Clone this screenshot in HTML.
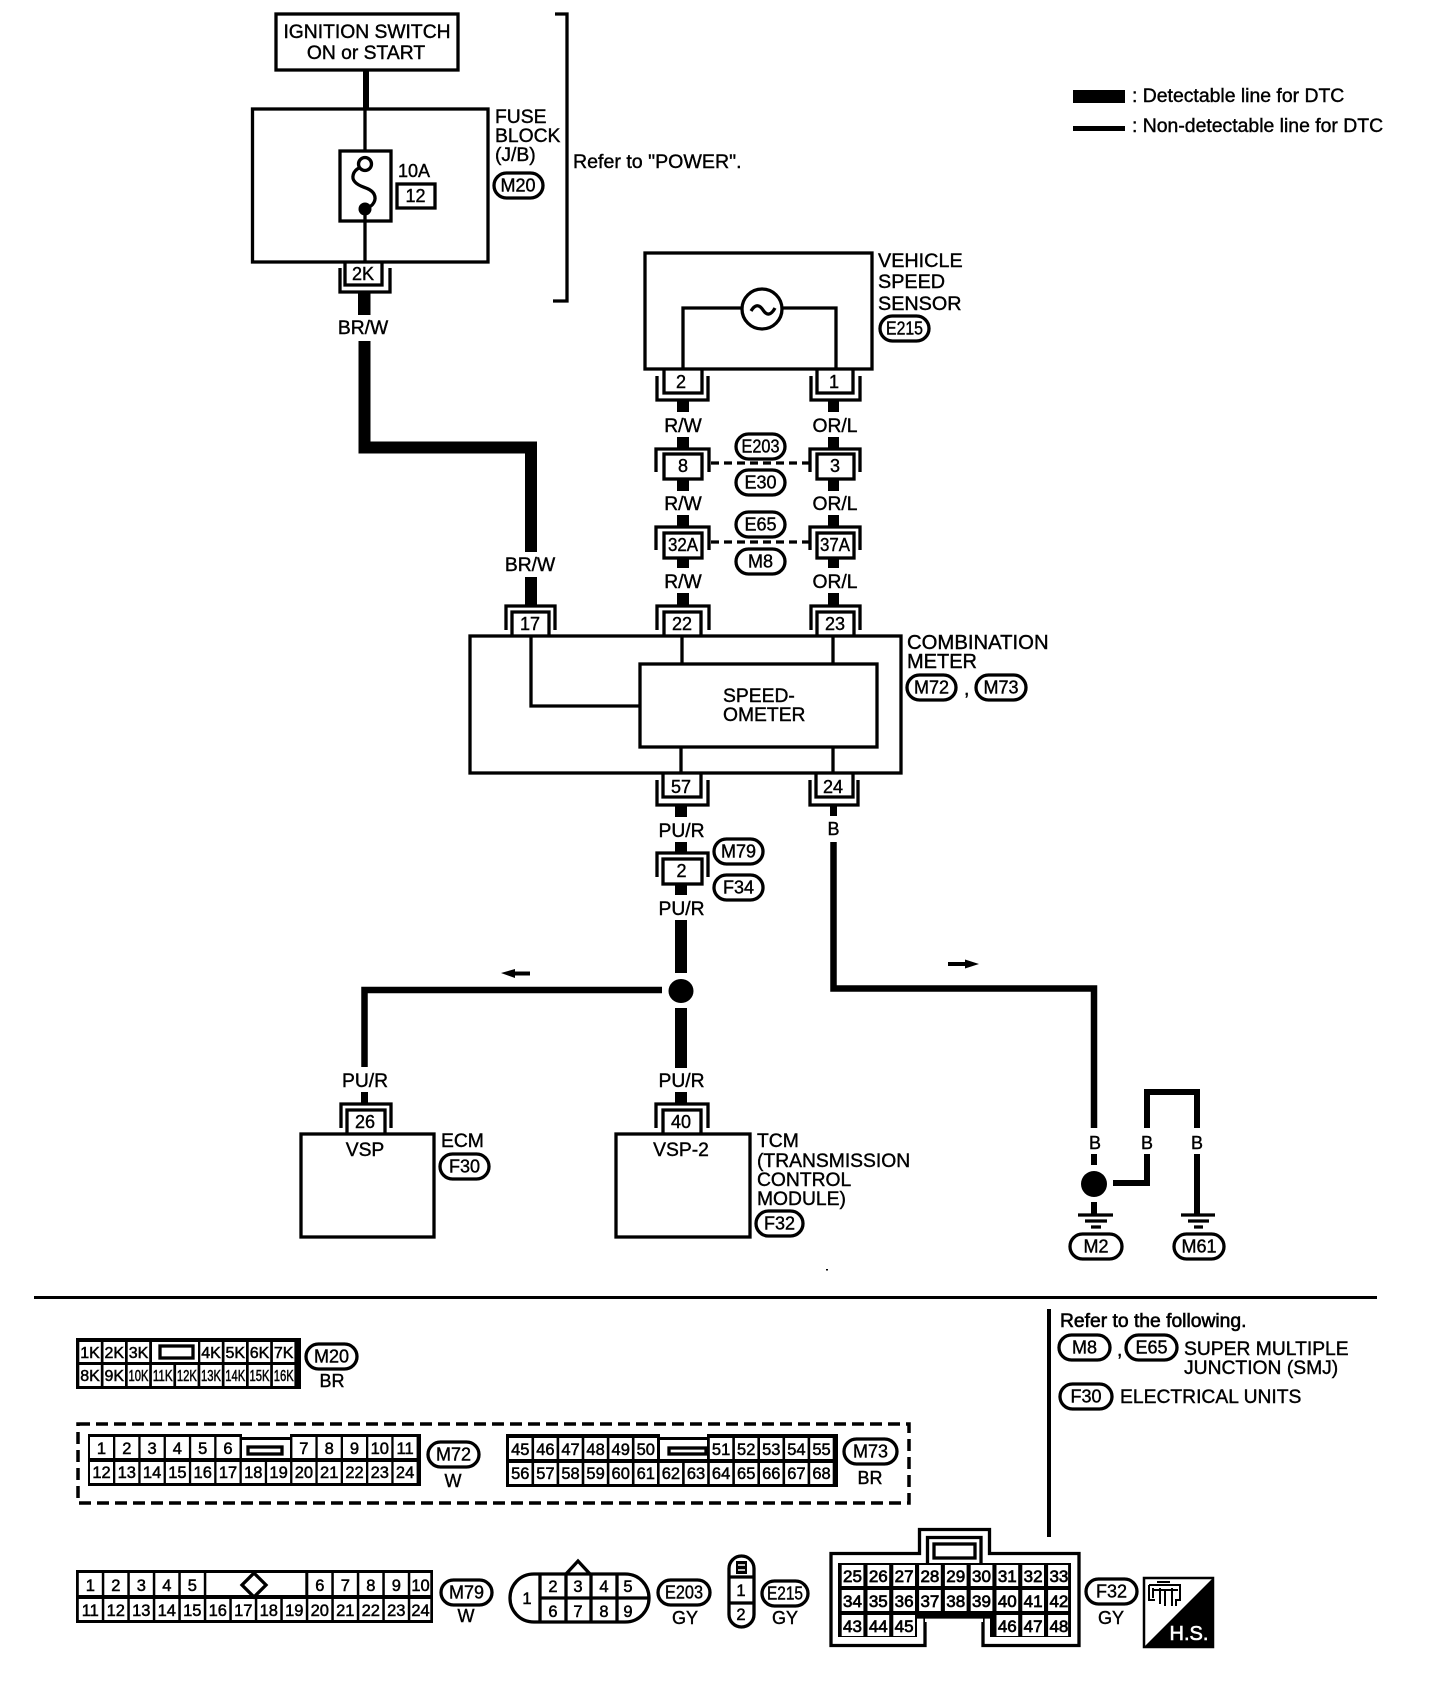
<!DOCTYPE html>
<html><head><meta charset="utf-8"><title>Wiring diagram</title>
<style>
html,body{margin:0;padding:0;background:#fff}
svg{display:block}
text{font-family:"Liberation Sans",sans-serif;font-size:19.300px;fill:#000;stroke:#000;stroke-width:.4}
.m{text-anchor:middle}
.s{font-size:18px}
.c{font-size:16.500px;text-anchor:middle;stroke-width:.5}
.k{font-size:16px;text-anchor:middle;stroke-width:.5}
.f{font-size:17px;text-anchor:middle;stroke-width:.7}
.o{fill:#fff;stroke:#000;stroke-width:3.300}
rect.o{height:25px;rx:12.500px;ry:12.500px}
.l{fill:none;stroke:#000;stroke-width:3.300}
.w{fill:#fff}
.b{fill:#000}
</style></head><body>
<svg width="1440" height="1690" viewBox="0 0 1440 1690" xmlns="http://www.w3.org/2000/svg">
<rect width="1440" height="1690" fill="#fff"/>

<!-- Ignition & fuse block -->
<rect x="276" y="14" width="182" height="56" class="l"/>
<text x="367" y="38" class="m">IGNITION SWITCH</text>
<text x="366" y="59" class="m">ON or START</text>
<rect x="363" y="70" width="6" height="40" class="b"/>
<rect x="252.500" y="109" width="235.500" height="153" class="l"/>
<path d="M365 109V151M365 209V262" class="l"/>
<rect x="340" y="151" width="51" height="70" class="l"/>
<circle cx="365" cy="164" r="6.500" class="l"/>
<path d="M359 168C353 171 351 178 355 182C360 188 370 187 374 194C377 200 373 206 367 208" class="l" stroke-width="2.800"/>
<circle cx="365" cy="209" r="6.500" class="b"/>
<text x="398" y="177" class="s">10A</text>
<rect x="397" y="184" width="38" height="24" class="l"/>
<text x="415.500" y="202" class="m s">12</text>
<text x="495" y="123">FUSE</text>
<text x="495" y="142">BLOCK</text>
<text x="495" y="161">(J/B)</text>
<rect x="494" y="173" class="o" width="49"/>
<text x="518" y="191.500" class="m s">M20</text>
<path d="M555 14H567V301H553" class="l"/>
<text x="573" y="168" style="font-size:19.600px">Refer to "POWER".</text>

<!-- Legend -->
<rect x="1073" y="90" width="52" height="13" class="b"/>
<text x="1132" y="102" style="font-size:19.400px">: Detectable line for DTC</text>
<rect x="1073" y="126" width="52" height="5" class="b"/>
<text x="1132" y="132" style="font-size:19.400px">: Non-detectable line for DTC</text>

<!-- 2K connector and BR/W wire -->
<path d="M345 262V285H382V262" class="l"/>
<path d="M340 268V292H390V268" class="l"/>
<text x="363" y="280" class="m s">2K</text>
<rect x="358" y="292" width="12.500" height="23" class="b"/>
<text x="363" y="334" class="m">BR/W</text>
<path d="M364.500 341V447.500H531V552" fill="none" stroke="#000" stroke-width="12"/>
<text x="530" y="571" class="m">BR/W</text>
<rect x="525" y="577" width="12" height="28" class="b"/>

<!-- Vehicle speed sensor -->
<rect x="645" y="253" width="227" height="116" class="l"/>
<circle cx="762" cy="309" r="20" class="l"/>
<path d="M751 311Q757 301 763 310T775 308" class="l"/>
<path d="M742 308H683V369M782 308H836V369" class="l"/>
<text x="878" y="267" style="font-size:19.800px">VEHICLE</text>
<text x="878" y="288" style="font-size:19.800px">SPEED</text>
<text x="878" y="310" style="font-size:19.800px">SENSOR</text>
<rect x="880" y="316" class="o" width="49"/>
<text x="904.500" y="334.500" class="m s" textLength="37" lengthAdjust="spacingAndGlyphs">E215</text>

<path d="M664 369V393H702V369M817 369V393H853V369" class="l"/>
<path d="M657 376V400H708V376M811 376V400H860V376" class="l"/>
<text x="681" y="388" class="m s">2</text>
<text x="834" y="388" class="m s">1</text>

<rect x="677" y="400" width="12" height="12" class="b"/>
<rect x="828" y="400" width="11" height="12" class="b"/>
<text x="683" y="432" class="m">R/W</text>
<text x="835" y="432" class="m">OR/L</text>

<!-- 8 / 3 -->
<rect x="677" y="437" width="12" height="12" class="b"/>
<rect x="828" y="437" width="11" height="12" class="b"/>
<path d="M656 472V449H709V472M810 472V449H860V472" class="l"/>
<rect x="664" y="454" width="38" height="25" class="l"/>
<rect x="817" y="454" width="37" height="25" class="l"/>
<text x="683" y="472" class="m s">8</text>
<text x="835" y="472" class="m s">3</text>
<path d="M711 463H809" class="l" stroke-dasharray="8 5"/>
<rect x="677" y="479" width="12" height="12" class="b"/>
<rect x="828" y="479" width="11" height="12" class="b"/>
<rect x="736" y="434" class="o" width="49"/>
<text x="760.500" y="452.500" class="m s" textLength="38" lengthAdjust="spacingAndGlyphs">E203</text>
<rect x="736" y="470" class="o" width="49"/>
<text x="760.500" y="488.500" class="m s">E30</text>

<text x="683" y="510" class="m">R/W</text>
<text x="835" y="510" class="m">OR/L</text>

<!-- 32A / 37A -->
<rect x="677" y="515" width="12" height="12" class="b"/>
<rect x="828" y="515" width="11" height="12" class="b"/>
<path d="M656 550V527H709V550M810 550V527H860V550" class="l"/>
<rect x="664" y="533" width="38" height="25" class="l"/>
<rect x="817" y="533" width="37" height="25" class="l"/>
<text x="683" y="551" class="m s" textLength="30" lengthAdjust="spacingAndGlyphs">32A</text>
<text x="835" y="551" class="m s" textLength="30" lengthAdjust="spacingAndGlyphs">37A</text>
<path d="M711 542H809" class="l" stroke-dasharray="8 5"/>
<rect x="677" y="558" width="12" height="10" class="b"/>
<rect x="828" y="558" width="11" height="10" class="b"/>
<rect x="736" y="512" class="o" width="49"/>
<text x="760.500" y="530.500" class="m s">E65</text>
<rect x="736" y="549" class="o" width="49"/>
<text x="760.500" y="567.500" class="m s">M8</text>

<text x="683" y="588" class="m">R/W</text>
<text x="835" y="588" class="m">OR/L</text>
<rect x="677" y="593" width="12" height="13" class="b"/>
<rect x="828" y="593" width="11" height="13" class="b"/>

<!-- Combination meter -->
<path d="M506 630V606H555V630M657 630V606H709V630M811 630V606H860V630" class="l"/>
<path d="M512 635V612H549V635M664 635V612H701V635M817 635V612H854V635" class="l"/>
<text x="530" y="630" class="m s">17</text>
<text x="682" y="630" class="m s">22</text>
<text x="835" y="630" class="m s">23</text>
<rect x="470" y="636" width="431" height="137" class="l"/>
<rect x="640" y="664" width="237" height="83" class="l"/>
<path d="M531 636V706H640M682 636V664M833 636V664M681 747V773M833 747V773" class="l"/>
<text x="723" y="702">SPEED-</text>
<text x="723" y="721">OMETER</text>
<text x="907" y="649" style="font-size:20.300px">COMBINATION</text>
<text x="907" y="668" style="font-size:20px">METER</text>
<rect x="907" y="675" class="o" width="49"/>
<text x="931.500" y="693.500" class="m s">M72</text>
<text x="964" y="695">,</text>
<rect x="976" y="675" class="o" width="50"/>
<text x="1001" y="693.500" class="m s">M73</text>

<path d="M663 773V797H701V773M816 773V797H853V773" class="l"/>
<path d="M657 780V805H708V780M810 780V805H858V780" class="l"/>
<text x="681" y="793" class="m s">57</text>
<text x="833" y="793" class="m s">24</text>

<!-- PU/R -->
<rect x="675" y="805" width="12" height="12" class="b"/>
<text x="681.500" y="837" class="m">PU/R</text>
<rect x="675" y="842" width="12" height="11" class="b"/>
<path d="M657 877V853H708V877" class="l"/>
<rect x="663" y="859" width="39" height="25" class="l"/>
<text x="681.500" y="877" class="m s">2</text>
<rect x="675" y="884" width="12" height="11" class="b"/>
<text x="681.500" y="915" class="m">PU/R</text>
<rect x="675" y="920" width="12" height="53" class="b"/>
<ellipse cx="681" cy="991" rx="12.500" ry="12" class="b"/>
<rect x="675" y="1008" width="12" height="60" class="b"/>
<text x="681.500" y="1087" class="m">PU/R</text>
<rect x="675" y="1092" width="12" height="12" class="b"/>
<rect x="714" y="839" class="o" width="49"/>
<text x="738.500" y="857.500" class="m s">M79</text>
<rect x="714" y="875" class="o" width="49"/>
<text x="738.500" y="893.500" class="m s">F34</text>

<path d="M662 990H364.500V1067" fill="none" stroke="#000" stroke-width="6.500"/>
<path d="M501 973L515 969V971.500H530V975.500H515V978Z" class="b"/>
<text x="365" y="1087" class="m">PU/R</text>
<rect x="361" y="1092" width="7" height="12" class="b"/>

<!-- ECM / TCM -->
<path d="M341 1128V1104H391V1128M656 1128V1104H708V1128" class="l"/>
<path d="M347 1133V1110H385V1133M663 1133V1110H701V1133" class="l"/>
<text x="365" y="1128" class="m s">26</text>
<text x="681" y="1128" class="m s">40</text>
<rect x="301" y="1134" width="133" height="103" class="l"/>
<rect x="616" y="1134" width="134" height="103" class="l"/>
<text x="365" y="1156" class="m">VSP</text>
<text x="681" y="1156" class="m">VSP-2</text>
<text x="441" y="1147">ECM</text>
<rect x="440" y="1154" class="o" width="49"/>
<text x="464.500" y="1172.500" class="m s">F30</text>
<text x="757" y="1147">TCM</text>
<text x="757" y="1167">(TRANSMISSION</text>
<text x="757" y="1186">CONTROL</text>
<text x="757" y="1205">MODULE)</text>
<rect x="756" y="1211" class="o" width="47"/>
<text x="779.500" y="1229.500" class="m s">F32</text>

<!-- B ground wires -->
<rect x="830" y="805" width="7" height="11" class="b"/>
<text x="833.500" y="835" class="m s">B</text>
<path d="M833.500 842V988.500H1094V1128" fill="none" stroke="#000" stroke-width="6.500"/>
<path d="M948 962H965V959.500L979 964L965 968.500V966H948Z" class="b"/>
<text x="1095" y="1149" class="m s">B</text>
<rect x="1091" y="1154" width="6" height="11" class="b"/>
<circle cx="1094" cy="1184" r="13" class="b"/>
<rect x="1091" y="1202" width="6" height="12" class="b"/>
<path d="M1078 1215H1113M1085 1221H1107M1091 1227H1101" class="l"/>
<rect x="1070" y="1234" class="o" width="52"/>
<text x="1096" y="1252.500" class="m s">M2</text>

<path d="M1113 1183H1147V1154" fill="none" stroke="#000" stroke-width="6"/>
<path d="M1147 1128V1092H1197V1128" fill="none" stroke="#000" stroke-width="6"/>
<text x="1147" y="1149" class="m s">B</text>
<text x="1197" y="1149" class="m s">B</text>
<rect x="1194" y="1154" width="6" height="60" class="b"/>
<path d="M1181 1215H1215M1188 1221H1209M1194 1227H1203" class="l"/>
<rect x="1174" y="1234" class="o" width="50"/>
<text x="1199" y="1252.500" class="m s">M61</text>
<rect x="826" y="1269" width="2" height="1.500" class="b"/>

<!-- Divider -->
<rect x="34" y="1296" width="1343" height="3" class="b"/>
<rect x="1047" y="1309" width="4" height="228" class="b"/>
<text x="1060" y="1327" style="stroke-width:.6">Refer to the following.</text>
<rect x="1059" y="1335" class="o" width="51"/>
<text x="1084.500" y="1353.500" class="m s">M8</text>
<text x="1117" y="1356">,</text>
<rect x="1126" y="1335" class="o" width="51"/>
<text x="1151.500" y="1353.500" class="m s">E65</text>
<text x="1184" y="1355">SUPER MULTIPLE</text>
<text x="1184" y="1374">JUNCTION (SMJ)</text>
<rect x="1060" y="1384" class="o" width="52"/>
<text x="1086" y="1402.500" class="m s">F30</text>
<text x="1120" y="1403">ELECTRICAL UNITS</text>

<!-- M20 connector -->
<rect x="76" y="1338" width="225" height="51" class="b"/>
<g class="w">
<rect x="79.300" y="1342" width="21.500" height="20"/><rect x="103.500" y="1342" width="21.500" height="20"/><rect x="127.700" y="1342" width="21.500" height="20"/><rect x="152" y="1342" width="46" height="20"/><rect x="200.300" y="1342" width="21.500" height="20"/><rect x="224.500" y="1342" width="21.500" height="20"/><rect x="248.700" y="1342" width="21.500" height="20"/><rect x="272.900" y="1342" width="21.500" height="20"/>
<rect x="79.300" y="1365" width="21.500" height="21"/><rect x="103.500" y="1365" width="21.500" height="21"/><rect x="127.700" y="1365" width="21.500" height="21"/><rect x="151.900" y="1365" width="21.500" height="21"/><rect x="176.100" y="1365" width="21.500" height="21"/><rect x="200.300" y="1365" width="21.500" height="21"/><rect x="224.500" y="1365" width="21.500" height="21"/><rect x="248.700" y="1365" width="21.500" height="21"/><rect x="272.900" y="1365" width="21.500" height="21"/>
</g>
<rect x="160" y="1346" width="33" height="12" class="l"/>
<text class="k" x="90" y="1358">1K</text><text class="k" x="114.300" y="1358">2K</text><text class="k" x="138.500" y="1358">3K</text><text class="k" x="211" y="1358">4K</text><text class="k" x="235.300" y="1358">5K</text><text class="k" x="259.500" y="1358">6K</text><text class="k" x="283.700" y="1358">7K</text>
<text class="k" x="90" y="1381">8K</text><text class="k" x="114.300" y="1381">9K</text><text class="k" x="138.500" y="1381" textLength="20" lengthAdjust="spacingAndGlyphs">10K</text><text class="k" x="162.700" y="1381" textLength="20" lengthAdjust="spacingAndGlyphs">11K</text><text class="k" x="186.900" y="1381" textLength="20" lengthAdjust="spacingAndGlyphs">12K</text><text class="k" x="211" y="1381" textLength="20" lengthAdjust="spacingAndGlyphs">13K</text><text class="k" x="235.300" y="1381" textLength="20" lengthAdjust="spacingAndGlyphs">14K</text><text class="k" x="259.500" y="1381" textLength="20" lengthAdjust="spacingAndGlyphs">15K</text><text class="k" x="283.700" y="1381" textLength="20" lengthAdjust="spacingAndGlyphs">16K</text>
<rect x="306" y="1344" class="o" width="51"/>
<text x="331.500" y="1362.500" class="m s">M20</text>
<text x="332" y="1387" class="m s">BR</text>

<!-- Dashed harness box -->
<rect x="78" y="1424" width="831" height="79" fill="none" stroke="#000" stroke-width="3.500" stroke-dasharray="12 6"/>

<!-- M72 -->
<rect x="88" y="1434" width="333" height="52" class="b"/>
<rect x="242" y="1434" width="48" height="3" class="w"/>
<g class="w">
<rect x="90" y="1437" width="23" height="21"/><rect x="115.300" y="1437" width="23" height="21"/><rect x="140.600" y="1437" width="23" height="21"/><rect x="165.900" y="1437" width="23" height="21"/><rect x="191.200" y="1437" width="23" height="21"/><rect x="216.500" y="1437" width="23" height="21"/><rect x="242" y="1440" width="48" height="18"/><rect x="292.400" y="1437" width="23" height="21"/><rect x="317.700" y="1437" width="23" height="21"/><rect x="343" y="1437" width="23" height="21"/><rect x="368.300" y="1437" width="23" height="21"/><rect x="393.600" y="1437" width="23" height="21"/>
<rect x="90" y="1462" width="23" height="21"/><rect x="115.300" y="1462" width="23" height="21"/><rect x="140.600" y="1462" width="23" height="21"/><rect x="165.900" y="1462" width="23" height="21"/><rect x="191.200" y="1462" width="23" height="21"/><rect x="216.500" y="1462" width="23" height="21"/><rect x="241.800" y="1462" width="23" height="21"/><rect x="267.100" y="1462" width="23" height="21"/><rect x="292.400" y="1462" width="23" height="21"/><rect x="317.700" y="1462" width="23" height="21"/><rect x="343" y="1462" width="23" height="21"/><rect x="368.300" y="1462" width="23" height="21"/><rect x="393.600" y="1462" width="23" height="21"/>
</g>
<rect x="248" y="1447" width="34" height="7" class="l"/>
<text class="c" x="101.500" y="1454">1</text><text class="c" x="126.800" y="1454">2</text><text class="c" x="152.100" y="1454">3</text><text class="c" x="177.400" y="1454">4</text><text class="c" x="202.700" y="1454">5</text><text class="c" x="228" y="1454">6</text><text class="c" x="303.900" y="1454">7</text><text class="c" x="329.200" y="1454">8</text><text class="c" x="354.500" y="1454">9</text><text class="c" x="379.800" y="1454">10</text><text class="c" x="405.100" y="1454">11</text>
<text class="c" x="101.500" y="1478">12</text><text class="c" x="126.800" y="1478">13</text><text class="c" x="152.100" y="1478">14</text><text class="c" x="177.400" y="1478">15</text><text class="c" x="202.700" y="1478">16</text><text class="c" x="228" y="1478">17</text><text class="c" x="253.300" y="1478">18</text><text class="c" x="278.600" y="1478">19</text><text class="c" x="303.900" y="1478">20</text><text class="c" x="329.200" y="1478">21</text><text class="c" x="354.500" y="1478">22</text><text class="c" x="379.800" y="1478">23</text><text class="c" x="405.100" y="1478">24</text>
<rect x="428" y="1442" class="o" width="51"/>
<text x="453.500" y="1460.500" class="m s">M72</text>
<text x="453" y="1487" class="m s">W</text>

<!-- M73 -->
<rect x="506" y="1434" width="332" height="53" class="b"/>
<rect x="660" y="1434" width="47" height="3" class="w"/>
<g class="w">
<rect x="509" y="1438" width="22.500" height="21"/><rect x="534.100" y="1438" width="22.500" height="21"/><rect x="559.200" y="1438" width="22.500" height="21"/><rect x="584.300" y="1438" width="22.500" height="21"/><rect x="609.400" y="1438" width="22.500" height="21"/><rect x="634.500" y="1438" width="22.500" height="21"/><rect x="660" y="1440" width="47" height="19"/><rect x="709.800" y="1438" width="22.500" height="21"/><rect x="734.900" y="1438" width="22.500" height="21"/><rect x="760" y="1438" width="22.500" height="21"/><rect x="785.100" y="1438" width="22.500" height="21"/><rect x="810.200" y="1438" width="22.500" height="21"/>
<rect x="509" y="1463" width="22.500" height="21"/><rect x="534.100" y="1463" width="22.500" height="21"/><rect x="559.200" y="1463" width="22.500" height="21"/><rect x="584.300" y="1463" width="22.500" height="21"/><rect x="609.400" y="1463" width="22.500" height="21"/><rect x="634.500" y="1463" width="22.500" height="21"/><rect x="659.600" y="1463" width="22.500" height="21"/><rect x="684.700" y="1463" width="22.500" height="21"/><rect x="709.800" y="1463" width="22.500" height="21"/><rect x="734.900" y="1463" width="22.500" height="21"/><rect x="760" y="1463" width="22.500" height="21"/><rect x="785.100" y="1463" width="22.500" height="21"/><rect x="810.200" y="1463" width="22.500" height="21"/>
</g>
<rect x="669" y="1448" width="37" height="6" class="l"/>
<text class="c" x="520.300" y="1455">45</text><text class="c" x="545.400" y="1455">46</text><text class="c" x="570.500" y="1455">47</text><text class="c" x="595.600" y="1455">48</text><text class="c" x="620.700" y="1455">49</text><text class="c" x="645.800" y="1455">50</text><text class="c" x="721.100" y="1455">51</text><text class="c" x="746.200" y="1455">52</text><text class="c" x="771.300" y="1455">53</text><text class="c" x="796.400" y="1455">54</text><text class="c" x="821.500" y="1455">55</text>
<text class="c" x="520.300" y="1479">56</text><text class="c" x="545.400" y="1479">57</text><text class="c" x="570.500" y="1479">58</text><text class="c" x="595.600" y="1479">59</text><text class="c" x="620.700" y="1479">60</text><text class="c" x="645.800" y="1479">61</text><text class="c" x="670.900" y="1479">62</text><text class="c" x="696" y="1479">63</text><text class="c" x="721.100" y="1479">64</text><text class="c" x="746.200" y="1479">65</text><text class="c" x="771.300" y="1479">66</text><text class="c" x="796.400" y="1479">67</text><text class="c" x="821.500" y="1479">68</text>
<rect x="844" y="1439" class="o" width="53"/>
<text x="870.500" y="1457.500" class="m s">M73</text>
<text x="870" y="1484" class="m s">BR</text>

<!-- M79 -->
<rect x="76" y="1570" width="357" height="53" class="b"/>
<g class="w">
<rect x="78.800" y="1573" width="23" height="22"/><rect x="104.300" y="1573" width="23" height="22"/><rect x="129.800" y="1573" width="23" height="22"/><rect x="155.300" y="1573" width="23" height="22"/><rect x="180.800" y="1573" width="23" height="22"/><rect x="206.300" y="1573" width="99" height="22"/><rect x="308.300" y="1573" width="23" height="22"/><rect x="333.800" y="1573" width="23" height="22"/><rect x="359.300" y="1573" width="23" height="22"/><rect x="384.800" y="1573" width="23" height="22"/><rect x="410.300" y="1573" width="20" height="22"/>
<rect x="78.800" y="1599" width="23" height="21"/><rect x="104.300" y="1599" width="23" height="21"/><rect x="129.800" y="1599" width="23" height="21"/><rect x="155.300" y="1599" width="23" height="21"/><rect x="180.800" y="1599" width="23" height="21"/><rect x="206.300" y="1599" width="23" height="21"/><rect x="231.800" y="1599" width="23" height="21"/><rect x="257.300" y="1599" width="23" height="21"/><rect x="282.800" y="1599" width="23" height="21"/><rect x="308.300" y="1599" width="23" height="21"/><rect x="333.800" y="1599" width="23" height="21"/><rect x="359.300" y="1599" width="23" height="21"/><rect x="384.800" y="1599" width="23" height="21"/><rect x="410.300" y="1599" width="20" height="21"/>
</g>
<path d="M254 1573L266 1585L254 1597L242 1585Z" class="o"/>
<text class="c" x="90.300" y="1591">1</text><text class="c" x="115.800" y="1591">2</text><text class="c" x="141.300" y="1591">3</text><text class="c" x="166.800" y="1591">4</text><text class="c" x="192.300" y="1591">5</text><text class="c" x="319.800" y="1591">6</text><text class="c" x="345.300" y="1591">7</text><text class="c" x="370.800" y="1591">8</text><text class="c" x="396.300" y="1591">9</text><text class="c" x="420.500" y="1591">10</text>
<text class="c" x="90.300" y="1616">11</text><text class="c" x="115.800" y="1616">12</text><text class="c" x="141.300" y="1616">13</text><text class="c" x="166.800" y="1616">14</text><text class="c" x="192.300" y="1616">15</text><text class="c" x="217.800" y="1616">16</text><text class="c" x="243.300" y="1616">17</text><text class="c" x="268.800" y="1616">18</text><text class="c" x="294.300" y="1616">19</text><text class="c" x="319.800" y="1616">20</text><text class="c" x="345.300" y="1616">21</text><text class="c" x="370.800" y="1616">22</text><text class="c" x="396.300" y="1616">23</text><text class="c" x="420.500" y="1616">24</text>
<rect x="441" y="1580" class="o" width="51"/>
<text x="466.500" y="1598.500" class="m s">M79</text>
<text x="466" y="1622" class="m s">W</text>

<!-- E203 connector -->
<path d="M566 1574L578 1561L590 1574" class="l"/>
<path d="M534 1574H625C640 1574 649 1586 649 1598C649 1610 640 1622 625 1622H534C519 1622 510 1610 510 1598C510 1586 519 1574 534 1574Z" class="o"/>
<path d="M540 1574V1622M566 1574V1622M591 1574V1622M617 1574V1622M540 1598H649" class="l"/>
<text class="c" x="527" y="1604">1</text>
<text class="c" x="553" y="1592">2</text><text class="c" x="578" y="1592">3</text><text class="c" x="604" y="1592">4</text><text class="c" x="628" y="1592">5</text>
<text class="c" x="553" y="1617">6</text><text class="c" x="578" y="1617">7</text><text class="c" x="604" y="1617">8</text><text class="c" x="628" y="1617">9</text>
<rect x="658" y="1580" class="o" width="52"/>
<text x="684" y="1598.500" class="m s" textLength="38" lengthAdjust="spacingAndGlyphs">E203</text>
<text x="685" y="1624" class="m s">GY</text>

<!-- E215 connector -->
<rect x="729" y="1556" width="25" height="71" rx="12.500" fill="#fff" stroke="#000" stroke-width="3.300"/>
<rect x="736" y="1561" width="11" height="13" class="b"/>
<path d="M738 1565H745M738 1570H745" stroke="#fff" stroke-width="1.500"/>
<path d="M729 1577H754M729 1603H754" class="l"/>
<text class="c" x="741" y="1596">1</text>
<text class="c" x="741" y="1620">2</text>
<rect x="762" y="1581" class="o" width="46"/>
<text x="785" y="1599.500" class="m s" textLength="36" lengthAdjust="spacingAndGlyphs">E215</text>
<text x="785" y="1624" class="m s">GY</text>

<!-- F32 connector -->
<path d="M831 1553.500H919.500V1529.500H989.500V1553.500H1079V1645.500H983V1618H925V1645.500H831Z" class="o"/>
<path d="M838 1563H1071V1637H990V1617H917V1637H838Z" class="b"/>
<path d="M927.500 1563V1537.500H981V1563" class="l"/>
<rect x="934" y="1544" width="41" height="14" class="l"/>
<g class="w">
<rect x="841.700" y="1565" width="21.700" height="21"/><rect x="867.500" y="1565" width="21.700" height="21"/><rect x="893.300" y="1565" width="21.700" height="21"/><rect x="919.100" y="1565" width="21.700" height="21"/><rect x="944.900" y="1565" width="21.700" height="21"/><rect x="970.700" y="1565" width="21.700" height="21"/><rect x="996.500" y="1565" width="21.700" height="21"/><rect x="1022.300" y="1565" width="21.700" height="21"/><rect x="1048.100" y="1565" width="20" height="21"/>
<rect x="841.700" y="1590" width="21.700" height="21"/><rect x="867.500" y="1590" width="21.700" height="21"/><rect x="893.300" y="1590" width="21.700" height="21"/><rect x="919.100" y="1590" width="21.700" height="21"/><rect x="944.900" y="1590" width="21.700" height="21"/><rect x="970.700" y="1590" width="21.700" height="21"/><rect x="996.500" y="1590" width="21.700" height="21"/><rect x="1022.300" y="1590" width="21.700" height="21"/><rect x="1048.100" y="1590" width="20" height="21"/>
<rect x="841.700" y="1615" width="21.700" height="21"/><rect x="867.500" y="1615" width="21.700" height="21"/><rect x="893.300" y="1615" width="21.700" height="21"/><rect x="996.500" y="1615" width="21.700" height="21"/><rect x="1022.300" y="1615" width="21.700" height="21"/><rect x="1048.100" y="1615" width="20" height="21"/>
<rect x="925" y="1617" width="58" height="5"/>
</g>
<path d="M917 1617H990" class="l"/>
<text class="f" x="852.500" y="1582">25</text><text class="f" x="878.300" y="1582">26</text><text class="f" x="904.100" y="1582">27</text><text class="f" x="929.900" y="1582">28</text><text class="f" x="955.700" y="1582">29</text><text class="f" x="981.500" y="1582">30</text><text class="f" x="1007.300" y="1582">31</text><text class="f" x="1033.100" y="1582">32</text><text class="f" x="1058.900" y="1582">33</text>
<text class="f" x="852.500" y="1607">34</text><text class="f" x="878.300" y="1607">35</text><text class="f" x="904.100" y="1607">36</text><text class="f" x="929.900" y="1607">37</text><text class="f" x="955.700" y="1607">38</text><text class="f" x="981.500" y="1607">39</text><text class="f" x="1007.300" y="1607">40</text><text class="f" x="1033.100" y="1607">41</text><text class="f" x="1058.900" y="1607">42</text>
<text class="f" x="852.500" y="1632">43</text><text class="f" x="878.300" y="1632">44</text><text class="f" x="904.100" y="1632">45</text><text class="f" x="1007.300" y="1632">46</text><text class="f" x="1033.100" y="1632">47</text><text class="f" x="1058.900" y="1632">48</text>
<rect x="1086" y="1579" class="o" width="51"/>
<text x="1111.500" y="1597.500" class="m s">F32</text>
<text x="1111" y="1624" class="m s">GY</text>

<!-- H.S. badge -->
<rect x="1144" y="1578" width="69" height="69" fill="none" stroke="#000" stroke-width="2.500"/>
<path d="M1214 1577V1648H1143Z" class="b"/>
<path d="M1149 1585H1180V1600H1176V1606M1149 1585V1600H1155M1153 1588V1598M1160 1588V1604M1165 1589V1606M1172 1588V1606M1157 1582H1170M1153 1590H1178" fill="none" stroke="#000" stroke-width="2"/>
<text x="1189" y="1640" class="m" style="fill:#fff;stroke:#fff;stroke-width:.6;font-size:20px">H.S.</text>
</svg>
</body></html>
